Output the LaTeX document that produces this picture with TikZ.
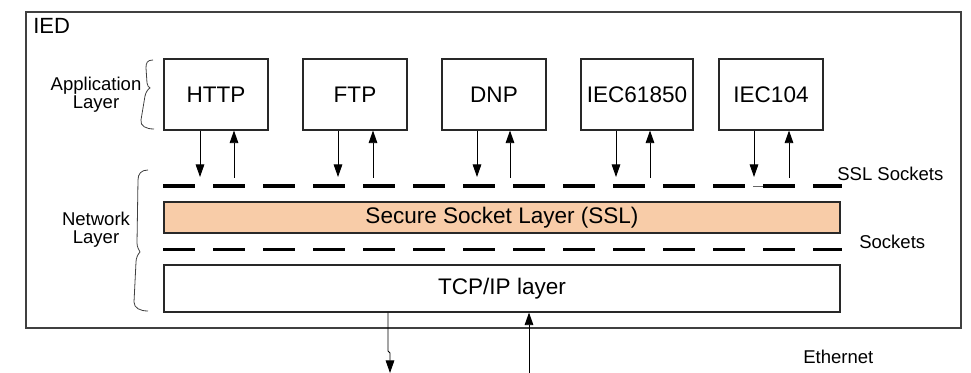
\documentclass[tikz,border=0pt]{standalone}
\usepackage{fontspec}
\setmainfont{Liberation Sans}
\usetikzlibrary{arrows.meta}
\definecolor{sslfill}{RGB}{248,204,168}
\definecolor{edge}{RGB}{40,40,40}
\tikzset{
  appbox/.style={draw=edge, line width=0.8pt, fill=white, minimum width=78pt, minimum height=53.25pt, inner sep=0pt, font=\fontsize{16.9pt}{19pt}\selectfont},
  layerbox/.style={draw=edge, line width=0.8pt, minimum width=507pt, inner sep=0pt, font=\fontsize{16.9pt}{19pt}\selectfont},
  sidelabel/.style={align=center, inner sep=0pt, font=\fontsize{13.9pt}{13.8pt}\selectfont},
  smalllabel/.style={anchor=base west, inner sep=0pt, font=\fontsize{13.9pt}{16pt}\selectfont},
  arr/.style={draw=black, line width=0.7pt, -{Triangle[length=9.5pt, width=6.5pt]}},
  sockline/.style={line width=2.6pt, dash pattern=on 24pt off 13.5pt},
  bracecurve/.style={draw=black!75, line width=0.6pt}
}
\begin{document}
\begin{tikzpicture}[x=0.75pt, y=-0.75pt]
\useasboundingbox (0,0) rectangle (971,373);

% outer device frame
\node[draw=black!75, line width=1pt, minimum width=701.25pt, minimum height=237pt, inner sep=0pt] (ied) at (493.5,170) {};
\node[anchor=base west, inner sep=0pt, font=\fontsize{16.5pt}{19pt}\selectfont] (iedlabel) at (33,33.5) {IED};

% application protocols
\node[appbox] (http) at (216,94.5) {HTTP};
\node[appbox] (ftp) at (355,94.5) {FTP};
\node[appbox] (dnp) at (494,94.5) {DNP};
\node[appbox, minimum width=84pt] (iec61850) at (637,94.5) {IEC61850};
\node[appbox] (iec104) at (771,94.5) {IEC104};

% network layers
\node[layerbox, fill=sslfill, minimum height=23.25pt] (ssl) at (502,217.5) {Secure Socket Layer (SSL)};
\node[layerbox, fill=white, minimum height=35.25pt] (tcp) at (502,288.5) {TCP/IP layer};

% socket interfaces
\coordinate (sslsockL) at (163,186);
\coordinate (sslsockR) at (842,186);
\coordinate (sockL) at (163,249.5);
\coordinate (sockR) at (842,249.5);
\draw[sockline] (sslsockL) -- (sslsockR);
\draw[sockline] (sockL) -- (sockR);
\draw[black!60, line width=0.6pt] (753,186) -- (763,186);

% side labels
\node[smalllabel] (ssllabel) at (837,181) {SSL Sockets};
\node[smalllabel] (socklabel) at (859,248.5) {Sockets};
\node[smalllabel] (ethlabel) at (803,364) {Ethernet};
\node[sidelabel] (applabel) at (96,95) {Application\\Layer};
\node[sidelabel] (netlabel) at (96,230) {Network\\Layer};

% braces
\draw[bracecurve] (153,60) .. controls (147,60) and (146,63) .. (146,68) -- (147,83)
  .. controls (147,86) and (149,87) .. (150,88) .. controls (148,89) and (146,92) .. (145,96)
  -- (141,120) .. controls (140,126) and (146,129) .. (154,129);
\draw[bracecurve] (148,170) .. controls (141,170) and (138,174) .. (138,180) -- (137,243)
  .. controls (137,247) and (139,250) .. (140,252) .. controls (138,254) and (136,258) .. (136,262)
  -- (134,302) .. controls (134,308) and (140,311) .. (148,311);

% arrows between protocols and SSL sockets
\foreach \b/\d/\u in {http/200/234, ftp/338/373, dnp/477/510, iec61850/616/650, iec104/754/789}{
  \coordinate (\b-down) at (\d,177);
  \coordinate (\b-up) at (\u,178);
  \draw[arr] (\b.south -| \b-down) -- (\b-down);
  \draw[arr] (\b-up) -- (\b.south -| \b-up);
}

% arrows to and from the Ethernet
\coordinate (ethout) at (390,373);
\coordinate (ethin) at (529,373);
\draw[arr] (tcp.south -| 388,0) -- (388,351) -- (390,353) -- (ethout);
\draw[arr] (ethin) -- (tcp.south -| ethin);
\end{tikzpicture}
\end{document}
